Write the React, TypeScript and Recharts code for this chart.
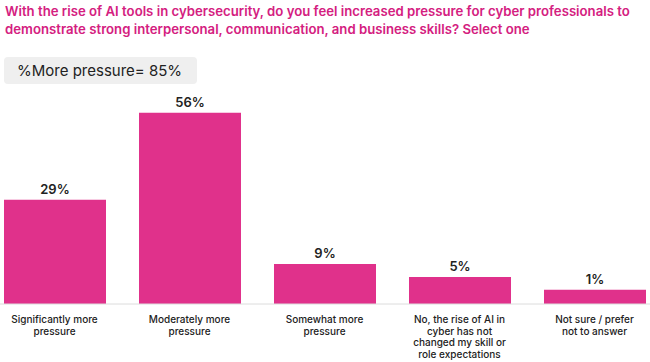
import { Bar, BarChart, XAxis, YAxis, LabelList } from "recharts";

const titleLines = [
  "With the rise of AI tools in cybersecurity, do you feel increased pressure for cyber professionals to",
  "demonstrate strong interpersonal, communication, and business skills? Select one",
];
const badgeText = "%More pressure= 85%";

const categories = [
  "Significantly more pressure",
  "Moderately more pressure",
  "Somewhat more pressure",
  "No, the rise of AI in cyber has not changed my skill or role expectations",
  "Not sure / prefer not to answer",
];
const shares = [29, 56, 9, 5, 1];
const tickLines = [
  ["Significantly more", "pressure"],
  ["Moderately more", "pressure"],
  ["Somewhat more", "pressure"],
  ["No, the rise of AI in", "cyber has not", "changed my skill or", "role expectations"],
  ["Not sure / prefer", "not to answer"],
];

// bars in the source sit on a small floor below zero
const BAR_FLOOR = -3.4;
const Y_MAX = 60;

const PINK = "#e0318b";
const TITLE = "#d4207f";
const FONT = "Inter, 'Noto Sans', sans-serif";

const data = categories.map((category, i) => ({
  category,
  share: shares[i],
  range: [BAR_FLOOR, shares[i]],
}));

const CategoryTick = (props: any) => {
  const { x, y, payload } = props;
  const lines = tickLines[categories.indexOf(payload.value)] || [];
  return (
    <text x={x} y={y} textAnchor="middle" fill="#222" fontSize={10} fontWeight={500} fontFamily={FONT}>
      {lines.map((line, i) => (
        <tspan key={i} x={x} dy={i === 0 ? 19 : 11.5}>
          {line}
        </tspan>
      ))}
    </text>
  );
};

export default function App() {
  return (
    <div style={{ position: "fixed", left: 0, top: 0, width: 650, height: 362, overflow: "hidden", background: "#fff" }}>
      <div style={{ position: "absolute", left: 5, top: 3, color: TITLE, fontFamily: FONT, fontWeight: 600, fontSize: 13.2, lineHeight: "17.5px", whiteSpace: "nowrap" }}>
        {titleLines.map((t) => (
          <div key={t}>{t}</div>
        ))}
      </div>
      <div
        style={{
          position: "absolute",
          left: 4,
          top: 57,
          width: 193,
          height: 27,
          borderRadius: 4,
          background: "#efefef",
          color: "#222",
          fontFamily: FONT,
          fontSize: 15,
          lineHeight: "27px",
          paddingLeft: 13,
          boxSizing: "border-box",
          whiteSpace: "nowrap",
        }}
      >
        {badgeText}
      </div>
      <div style={{ position: "absolute", left: -13, top: 0 }}>
        <BarChart width={675} height={362} data={data} margin={{ top: 100, right: 0, bottom: 0, left: 0 }}>
          <XAxis
            dataKey="category"
            interval={0}
            tickLine={false}
            tickSize={0}
            tickMargin={0}
            height={58}
            axisLine={{ stroke: "#dcdcdc" }}
            tick={<CategoryTick />}
          />
          <YAxis hide type="number" domain={[BAR_FLOOR, Y_MAX]} />
          <Bar dataKey="range" fill={PINK} barSize={102} isAnimationActive={false}>
            <LabelList
              dataKey="share"
              position="top"
              offset={6}
              formatter={(v: any) => `${v}%`}
              fill="#222"
              fontSize={13}
              fontWeight={600}
              fontFamily={FONT}
            />
          </Bar>
        </BarChart>
      </div>
    </div>
  );
}
